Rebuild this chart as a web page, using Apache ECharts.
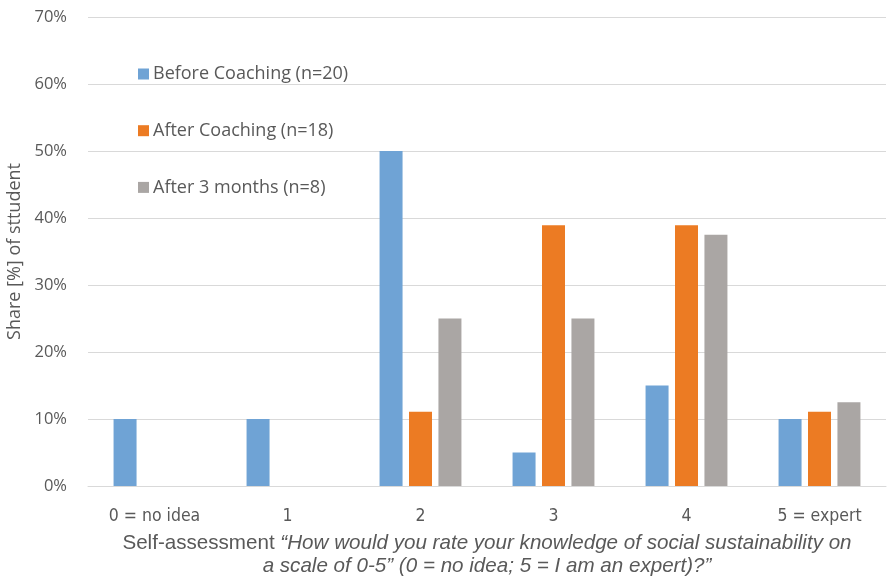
<!DOCTYPE html>
<html><head><meta charset="utf-8">
<script src="https://cdn.jsdelivr.net/npm/echarts@6/dist/echarts.min.js"></script>
<style>html,body{margin:0;padding:0;background:#fff}#c{width:889px;height:576px}</style>
</head><body><div id="c"></div>
<script>
const categories = ['0 = no idea', '1', '2', '3', '4', '5 = expert'];
const beforeCoaching = [10, 10, 50, 5, 15, 10];
const afterCoaching = [null, null, 11.1, 38.9, 38.9, 11.1];
const after3Months = [null, null, 25, 25, 37.5, 12.5];
const seriesNames = ['Before Coaching (n=20)', 'After Coaching (n=18)', 'After 3 months (n=8)'];
const yTicks = [0, 10, 20, 30, 40, 50, 60, 70];

const chart = echarts.init(document.getElementById('c'), null, {renderer: 'canvas'});
const txt = '#595959';
chart.setOption({
  animation: false,
  backgroundColor: '#fff',
  grid: {left: 88, right: 3, top: 17, bottom: 90, containLabel: false, outerBoundsMode: 'none'},
  legend: {
    orient: 'vertical', left: 133, top: 60, itemGap: 38.7,
    itemWidth: 11, itemHeight: 11, icon: 'rect',
    textStyle: {fontFamily: 'Open Sans', fontSize: 18, color: txt, padding: [0, 0, 0, -1]},
    data: seriesNames
  },
  xAxis: {
    type: 'category', data: categories,
    axisLine: {lineStyle: {color: '#d9d9d9', width: 1}},
    axisTick: {show: false},
    axisLabel: {fontFamily: 'DejaVu Sans Condensed', fontSize: 17.5, color: txt, margin: 21},
    name: '{n|Self-assessment }{i|“How would you rate your knowledge of social sustainability on}\n{i|a scale of 0-5” (0 = no idea; 5 = I am an expert)?”}',
    nameLocation: 'middle', nameGap: 46,
    nameTextStyle: {
      color: txt, fontFamily: 'Liberation Sans', fontSize: 20.6, lineHeight: 23,
      rich: {
        n: {fontFamily: 'Liberation Sans', fontSize: 20.6, color: txt, lineHeight: 23},
        i: {fontFamily: 'Liberation Sans', fontStyle: 'italic', fontSize: 20.6, color: txt, lineHeight: 23}
      }
    }
  },
  yAxis: {
    type: 'value', min: 0, max: 70, interval: 10,
    axisLine: {show: false}, axisTick: {show: false},
    splitLine: {lineStyle: {color: '#d9d9d9', width: 1}},
    axisLabel: {formatter: v => yTicks.includes(v) ? v + '%' : '', fontFamily: 'Open Sans', fontSize: 16.5, color: txt, margin: 21},
    name: 'Share [%] of sttudent', nameLocation: 'middle', nameGap: 51, nameRotate: 90,
    nameTextStyle: {fontFamily: 'Open Sans', fontSize: 18, color: txt}
  },
  series: [
    {name: seriesNames[0], type: 'bar', data: beforeCoaching, itemStyle: {color: '#6fa3d5'}, barWidth: 23, barGap: '28%', barCategoryGap: '38%'},
    {name: seriesNames[1], type: 'bar', data: afterCoaching, itemStyle: {color: '#ec7b23'}, barWidth: 23, barGap: '28%'},
    {name: seriesNames[2], type: 'bar', data: after3Months, itemStyle: {color: '#aaa6a4'}, barWidth: 23, barGap: '28%'}
  ]
});
</script></body></html>
